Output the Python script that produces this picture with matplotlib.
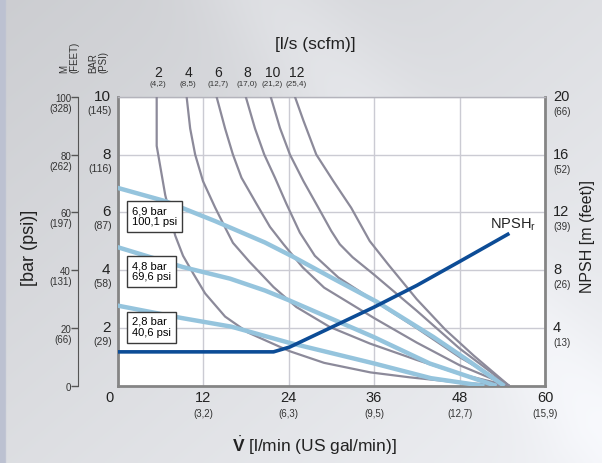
import numpy as np
import matplotlib
matplotlib.use("Agg")
import matplotlib.pyplot as plt
from matplotlib.transforms import offset_copy

plt.rcParams['font.family'] = ['Liberation Sans', 'DejaVu Sans']
plt.rcParams['mathtext.fontset'] = 'custom'
plt.rcParams['mathtext.rm'] = 'Liberation Sans'
plt.rcParams['mathtext.it'] = 'Liberation Sans:italic'
plt.rcParams['mathtext.bf'] = 'Liberation Sans:bold'

# scales
flow_lmin = [0, 12, 24, 36, 48, 60]
flow_gal = ['', '(3,2)', '(6,3)', '(9,5)', '(12,7)', '(15,9)']
bar_ticks = [2, 4, 6, 8, 10]
bar_psi = ['(29)', '(58)', '(87)', '(116)', '(145)']
m_ticks = [0, 20, 40, 60, 80, 100]
m_feet = ['', '(66)', '(131)', '(197)', '(262)', '(328)']
npsh_ticks = [4, 8, 12, 16, 20]
npsh_feet = ['(13)', '(26)', '(39)', '(52)', '(66)']

# air consumption curves, l/s (scfm)
air_ls = ['2', '4', '6', '8', '10', '12']
air_scfm = ['(4,2)', '(8,5)', '(12,7)', '(17,0)', '(21,2)', '(25,4)']
air_x = [
    [5.5, 5.5, 6.7, 8.1, 9.2, 10.6, 12.3, 15.1, 18.3, 21.0, 24.2, 29.0, 35.5, 41.0, 48.0, 55.0],
    [9.7, 10.2, 10.9, 12.0, 13.7, 15.1, 16.2, 18.5, 21.9, 25.1, 29.8, 35.4, 42.0, 48.0, 55.0],
    [13.9, 15.1, 16.2, 17.4, 19.5, 21.4, 23.3, 26.0, 29.0, 33.0, 36.0, 42.0, 48.0, 55.0],
    [18.0, 19.3, 20.6, 22.1, 23.7, 25.6, 27.7, 31.0, 36.0, 42.0, 48.0, 55.0],
    [21.5, 22.8, 24.2, 26.1, 28.2, 30.0, 31.2, 33.0, 36.0, 42.0, 48.0, 55.0],
    [24.9, 26.1, 27.9, 30.3, 32.8, 35.4, 38.0, 42.0, 46.0, 50.0, 55.0],
]
air_y = [
    [10, 8.3, 6.6, 5.2, 4.5, 3.9, 3.2, 2.4, 1.85, 1.55, 1.2, 0.8, 0.47, 0.3, 0.12, 0],
    [10, 8.9, 8.0, 7.08, 6.17, 5.48, 4.95, 4.3, 3.42, 2.73, 2.04, 1.47, 0.9, 0.42, 0],
    [10, 8.9, 8.0, 7.2, 6.3, 5.5, 4.9, 4.1, 3.4, 2.8, 2.35, 1.5, 0.72, 0],
    [10, 8.9, 8.0, 7.2, 6.3, 5.3, 4.5, 3.75, 2.95, 2.0, 1.0, 0],
    [10, 8.92, 8.0, 7.08, 6.16, 5.36, 4.9, 4.45, 3.85, 2.6, 1.3, 0],
    [10, 9.17, 8.0, 7.08, 6.16, 5.01, 4.2, 3.0, 1.95, 1.05, 0],
]

# air inlet pressure lines
press_labels = ['6,9 bar\n100,1 psi', '4,8 bar\n69,6 psi', '2,8 bar\n40,6 psi']
press_x = [
    [0, 6.7, 13.7, 20.7, 24.7, 30.0, 36.4, 44.3, 49.4, 54.3],
    [0, 9.2, 15.8, 20.7, 24.0, 35.9, 43.8, 53.2],
    [0, 9.0, 16.0, 24.0, 36.0, 44.0, 51.5],
]
press_y = [
    [6.85, 6.39, 5.7, 4.96, 4.46, 3.75, 2.91, 1.7, 0.85, 0],
    [4.8, 4.11, 3.71, 3.3, 2.97, 1.7, 0.78, 0],
    [2.78, 2.35, 2.05, 1.5, 0.78, 0.27, 0],
]

# NPSHr, m
npsh_x = [0, 21.9, 24.2, 30.0, 36.0, 42.0, 48.0, 55.0]
npsh_m = [2.36, 2.36, 2.7, 4.05, 5.45, 6.95, 8.6, 10.55]

W, H = 602, 463
fig = plt.figure(figsize=(W / 100, H / 100), dpi=100)

# grey gradient background
bg = fig.add_axes([0, 0, 1, 1])
bg.set_zorder(-5)
X, Y = np.meshgrid(np.linspace(0, 1, 300), np.linspace(0, 1, 230))
t = np.clip(0.55 * X + 0.5 * Y, 0, 1)
v = 0.80 + 0.13 * t + 0.04 * np.exp(-((X - 0.6 * Y - 0.45) / 0.12) ** 2)
img = np.dstack([v, v + 0.005, v + 0.02])
img[:, :3, :] = [0.74, 0.76, 0.82]
bg.imshow(np.clip(img, 0, 1), aspect='auto', extent=[0, 1, 0, 1])
bg.axis('off')

x0, x1, y0, y1 = 117.5, 545, 96.7, 386
ax = fig.add_axes([x0 / W, 1 - y1 / H, (x1 - x0) / W, (y1 - y0) / H])
ax.set_facecolor('white')
ax.set_xlim(0, 60)
ax.set_ylim(0, 10)
ax.set_xticks(flow_lmin)
ax.set_yticks(bar_ticks)
ax.grid(color='#cbcbd3', lw=1)
ax.tick_params(length=0, labelleft=False, labelbottom=False)
for s in ['left', 'bottom', 'right']:
    ax.spines[s].set_linewidth(2)
    ax.spines[s].set_color('#858585')
ax.spines['top'].set_linewidth(1)
ax.spines['top'].set_color('#b4b4bc')

for xs, ys in zip(air_x, air_y):
    ax.plot(xs, ys, color='#8c8a9a', lw=1.6, zorder=3, solid_capstyle='butt')
for xs, ys in zip(press_x, press_y):
    ax.plot(xs, ys, color='#95c4dd', lw=3.2, zorder=4, solid_capstyle='butt')

for lab, yc in zip(press_labels, [5.85, 3.96, 2.03]):
    ax.text(2.0, yc, lab, fontsize=8, ha='left', va='center', linespacing=1.1, zorder=6,
            bbox=dict(boxstyle='square,pad=0.45', fc='white', ec='#3a3a3a', lw=1))

ax2 = ax.twinx()
ax2.set_ylim(0, 20)
ax2.set_yticks(npsh_ticks)
ax2.tick_params(length=0, labelright=False)
for s in ax2.spines.values():
    s.set_visible(False)
ax2.plot(npsh_x, npsh_m, color='#0c4c96', lw=2.6, zorder=5, solid_capstyle='butt')
ax2.annotate('NPSH$_\\mathrm{r}$', xy=(npsh_x[-1], npsh_m[-1]), xytext=(3, 3.5),
             textcoords='offset points', ha='center', va='baseline', fontsize=10.5, color='#222')

# bottom tick labels
tx = ax.get_xaxis_transform()
for v_, g in zip(flow_lmin, flow_gal):
    dx = -8.5 if v_ == 0 else 0
    ax.text(v_, 0, str(v_), fontsize=10.5, ha='center', va='center', color='#222',
            transform=offset_copy(tx, fig=fig, x=dx, y=-12, units='dots'))
    if g:
        ax.text(v_, 0, g, fontsize=7, ha='center', va='center', color='#333',
                transform=offset_copy(tx, fig=fig, y=-28, units='dots'))

# top air labels
for xs, a, s in zip(air_x, air_ls, air_scfm):
    ax.text(xs[0], 1, a, fontsize=10, ha='center', va='center', color='#222',
            transform=offset_copy(tx, fig=fig, x=1.5, y=24, units='dots'))
    ax.text(xs[0], 1, s, fontsize=5.8, ha='center', va='center', color='#333',
            transform=offset_copy(tx, fig=fig, x=1.5, y=12, units='dots'))

# left bar (psi) labels
ty = ax.get_yaxis_transform()
for b, p in zip(bar_ticks, bar_psi):
    ax.text(0, b, str(b), fontsize=11, ha='right', va='center', color='#222',
            transform=offset_copy(ty, fig=fig, x=-7, units='dots'))
    ax.text(0, b, p, fontsize=7.5, ha='right', va='center', color='#333',
            transform=offset_copy(ty, fig=fig, x=-5.5, y=-14, units='dots'))

# right NPSH labels
ty2 = ax2.get_yaxis_transform()
for n, f in zip(npsh_ticks, npsh_feet):
    ax2.text(1, n, str(n), fontsize=10.5, ha='left', va='center', color='#222',
             transform=offset_copy(ty2, fig=fig, x=8, units='dots'))
    ax2.text(1, n, f, fontsize=7, ha='left', va='center', color='#333',
             transform=offset_copy(ty2, fig=fig, x=8, y=-15, units='dots'))

# head scale in m (feet)
axm = fig.add_axes([78 / W, 1 - y1 / H, 0.001, (y1 - y0) / H])
axm.set_ylim(0, 100)
axm.set_xticks([])
axm.set_yticks(m_ticks)
axm.set_yticklabels([])
axm.tick_params(axis='y', direction='out', length=5, width=1, color='#555')
for s in ['top', 'bottom', 'right']:
    axm.spines[s].set_visible(False)
axm.spines['left'].set_color('#555')
axm.patch.set_visible(False)
tym = axm.get_yaxis_transform()
for m, f in zip(m_ticks, m_feet):
    axm.text(0, m, str(m), fontsize=7, ha='right', va='center', color='#333',
             transform=offset_copy(tym, fig=fig, x=-7, y=-2, units='dots'))
    if f:
        axm.text(0, m, f, fontsize=7, ha='right', va='center', color='#333',
                 transform=offset_copy(tym, fig=fig, x=-6, y=-12, units='dots'))

fig.text(69 / W, 1 - 73 / H, 'M\n(FEET)', rotation=90, fontsize=7, ha='center', va='bottom',
         multialignment='left', color='#333', linespacing=1.0)
fig.text(98.5 / W, 1 - 73 / H, 'BAR\n(PSI)', rotation=90, fontsize=7, ha='center', va='bottom',
         multialignment='left', color='#333', linespacing=1.0)

fig.text(315 / W, 1 - 45 / H, '[l/s (scfm)]', fontsize=12.5, ha='center', va='center', color='#222')
fig.text(314 / W, 1 - 446 / H, '$\\dot{\\mathbf{V}}$ [l/min (US gal/min)]', fontsize=12.5,
         ha='center', va='center', color='#222')
fig.text(29.5 / W, 1 - 248 / H, '[bar (psi)]', rotation=90, fontsize=13, ha='center', va='center', color='#222')
fig.text(587.5 / W, 1 - 236.5 / H, 'NPSH [m (feet)]', rotation=90, fontsize=11.5, ha='center', va='center',
         color='#222')

fig.savefig('out.png', dpi=100)
